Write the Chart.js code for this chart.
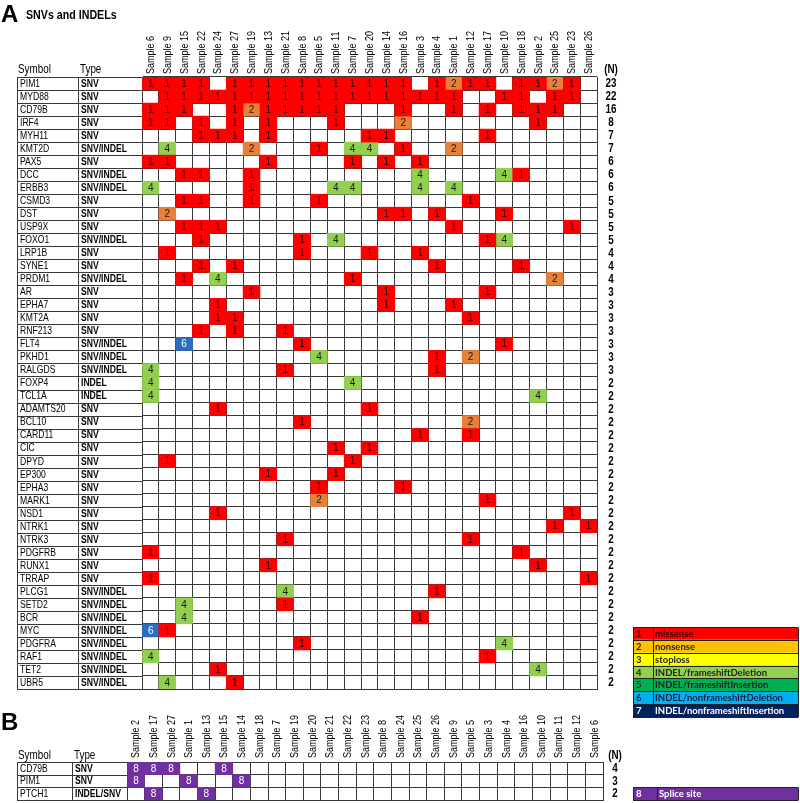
<!DOCTYPE html>
<html><head><meta charset="utf-8">
<script src="https://cdn.jsdelivr.net/npm/chart.js@4.4.1/dist/chart.umd.min.js"></script>
<style>
html,body{margin:0;padding:0;background:#fff;}
#wrap{position:relative;width:800px;height:803px;overflow:hidden;}
#wrap canvas{position:absolute;left:0;top:0;}
</style></head><body>
<div id="wrap">
<canvas id="cA" width="800" height="803"></canvas>
<canvas id="cB" width="800" height="803"></canvas>
</div>
<script>
// ---------------- DATA ----------------
const samplesA = ["Sample 6","Sample 9","Sample 15","Sample 22","Sample 24","Sample 27","Sample 19","Sample 13","Sample 21","Sample 8","Sample 5","Sample 11","Sample 7","Sample 20","Sample 14","Sample 16","Sample 3","Sample 4","Sample 1","Sample 12","Sample 17","Sample 10","Sample 18","Sample 2","Sample 25","Sample 23","Sample 26"];
const genesA = ["PIM1","MYD88","CD79B","IRF4","MYH11","KMT2D","PAX5","DCC","ERBB3","CSMD3","DST","USP9X","FOXO1","LRP1B","SYNE1","PRDM1","AR","EPHA7","KMT2A","RNF213","FLT4","PKHD1","RALGDS","FOXP4","TCL1A","ADAMTS20","BCL10","CARD11","CIC","DPYD","EP300","EPHA3","MARK1","NSD1","NTRK1","NTRK3","PDGFRB","RUNX1","TRRAP","PLCG1","SETD2","BCR","MYC","PDGFRA","RAF1","TET2","UBR5"];
const typesA = ["SNV","SNV","SNV","SNV","SNV","SNV/INDEL","SNV","SNV/INDEL","SNV/INDEL","SNV","SNV","SNV","SNV/INDEL","SNV","SNV","SNV/INDEL","SNV","SNV","SNV","SNV","SNV/INDEL","SNV/INDEL","SNV/INDEL","INDEL","INDEL","SNV","SNV","SNV","SNV","SNV","SNV","SNV","SNV","SNV","SNV","SNV","SNV","SNV","SNV","SNV/INDEL","SNV/INDEL","SNV/INDEL","SNV/INDEL","SNV/INDEL","SNV/INDEL","SNV/INDEL","SNV/INDEL"];
const countsA = [23,22,16,8,7,7,6,6,6,5,5,5,5,4,4,4,3,3,3,3,3,3,3,2,2,2,2,2,2,2,2,2,2,2,2,2,2,2,2,2,2,2,2,2,2,2,2];
// per gene: sample column index (in samplesA order) [:mutation code, default 1]
const callsA = [
 "0 1 2 3 5 6 7 8 9 10 11 12 13 14 15 17 18:2 19 20 22 23 24:2 25",
 "1 2 3 4 5 6 7 8 9 10 11 12 13 14 15 16 17 18 21 22 24 25",
 "0 1 2 5 6:2 7 8 9 10 11 15 18 20 22 23 24",
 "0 1 3 5 7 11 15:2 23",
 "3 4 5 7 13 14 20",
 "1:4 6:2 10 12:4 13:4 15 18:2",
 "0 1 7 12 14 16",
 "2 3 6 16:4 21:4 22",
 "0:4 6 11:4 12:4 16:4 18:4",
 "2 3 6 10 19",
 "1:2 14 15 17 21",
 "2 3 4 18 25",
 "3 9 11:4 20 21:4",
 "1 9 13 16",
 "3 5 17 22",
 "2 4:4 12 24:2",
 "6 14 20",
 "4 14 18",
 "4 5 19",
 "3 5 8",
 "2:6 9 21",
 "10:4 17 19:2",
 "0:4 8 17",
 "0:4 12:4",
 "0:4 23:4",
 "4 13",
 "9 19:2",
 "16 19",
 "11 13",
 "1 12",
 "7 11",
 "10 15",
 "10:2 20",
 "4 25",
 "24 26",
 "8 19",
 "0 22",
 "7 23",
 "0 26",
 "8:4 17",
 "2:4 8",
 "2:4 16",
 "0:6 1",
 "9 21:4",
 "0:4 20",
 "4 23:4",
 "1:4 5"
];
const samplesB = ["Sample 2","Sample 17","Sample 27","Sample 1","Sample 13","Sample 15","Sample 14","Sample 18","Sample 7","Sample 19","Sample 20","Sample 21","Sample 22","Sample 23","Sample 8","Sample 24","Sample 25","Sample 26","Sample 9","Sample 5","Sample 3","Sample 4","Sample 16","Sample 10","Sample 11","Sample 12","Sample 6"];
const genesB = ["CD79B","PIM1","PTCH1"];
const typesB = ["SNV","SNV","INDEL/SNV"];
const countsB = [4,3,2];
const callsB = ["0:8 1:8 2:8 5:8", "0:8 3:8 6:8", "1:8 4:8"];

const codes = [1,2,3,4,5,6,7,8];
const cellFill = ["#ff0000","#e9803a","#ffff00","#92d050","#00b050","#2a6fbf","#002060","#7030a0"];
const cellInk  = ["#2a0000","#1a1a1a","#1a1a1a","#1a1a1a","#1a1a1a","#ffffff","#ffffff","#ffffff"];
const legendCodesA = ["1","2","3","4","5","6","7"];
const legendLabelsA = ["missense","nonsense","stoploss","INDEL/frameshiftDeletion","INDEL/frameshiftInsertion","INDEL/nonframeshiftDeletion","INDEL/nonframeshiftInsertion"];
const legendFillA = ["#ff0000","#ffc000","#ffff00","#92d050","#00b050","#00b0f0","#002060"];
const legendInkA = ["#3a0000","#222222","#222222","#222222","#222222","#10203a","#ffffff"];
const legendCodesB = ["8"];
const legendLabelsB = ["Splice site"];
const legendFillB = ["#7030a0"];
const legendInkB = ["#ffffff"];

// ---------------- HELPERS ----------------
const ARIAL = "'Liberation Sans',Arial,sans-serif";
const LEG = "Lato,'Open Sans',sans-serif";
const NARROW_X = 0.82; // horizontal condensing to mimic Arial Narrow
const LINE = '#383838';

function parseCalls(s){ return s.trim().split(/\s+/).map(t=>{const p=t.split(':'); return {col:+p[0], code:p[1]?+p[1]:1};}); }
function makeDatasets(genes, calls){
  return codes.map((code,k)=>({
    label:String(code),
    data: genes.flatMap((g,i)=>parseCalls(calls[i]).filter(o=>o.code===code).map(o=>({x:[o.col,o.col+1], y:g, code:code}))),
    backgroundColor: cellFill[k], borderWidth:0, borderSkipped:false, grouped:false,
    barPercentage:1, categoryPercentage:1
  }));
}
const px = v => Math.round(v)+0.5;
function ntext(ctx, text, x, y, align, rot){
  ctx.save(); ctx.translate(x, y); if (rot) ctx.rotate(rot); ctx.scale(NARROW_X, 1);
  ctx.textAlign = align; ctx.fillText(text, 0, 0); ctx.restore();
}

function makePanel(cfg){
  return {
    id:'panel'+cfg.id,
    afterDatasetsDraw(chart){
      const ctx = chart.ctx;
      ctx.save();
      ctx.font = `10px ${ARIAL}`; ctx.textAlign='center'; ctx.textBaseline='middle';
      chart.data.datasets.forEach((ds,di)=>{
        const meta = chart.getDatasetMeta(di);
        meta.data.forEach((el,j)=>{
          const p = el.getCenterPoint();
          ctx.fillStyle = cellInk[codes.indexOf(ds.data[j].code)];
          ctx.fillText(String(ds.data[j].code), p.x, p.y+0.5);
        });
      });
      ctx.restore();
    },
    afterDraw(chart){
      const ctx = chart.ctx, ys = chart.scales.y, xt = chart.scales.xTop, a = chart.chartArea;
      const n = cfg.genes.length, h = (a.bottom-a.top)/n;
      ctx.save();
      // panel letter and title
      ctx.fillStyle='#000'; ctx.textAlign='left'; ctx.textBaseline='alphabetic';
      ctx.font = `bold ${cfg.letterSize}px ${ARIAL}`;
      ctx.fillText(cfg.letter, cfg.letterX, cfg.letterY);
      if (cfg.title){ ctx.font = `bold 13px ${ARIAL}`; ntext(ctx, cfg.title, cfg.titleX, cfg.titleY, 'left'); }
      // sample (column) labels, rotated, positioned by the top category scale
      ctx.fillStyle='#000'; ctx.textBaseline='middle'; ctx.font = `11px ${ARIAL}`;
      cfg.samples.forEach((s,i)=>{ ntext(ctx, s, xt.getPixelForValue(i)+0.5, a.top-cfg.tickPad, 'left', -Math.PI/2); });
      // left table
      ctx.strokeStyle = LINE; ctx.lineWidth = 1; ctx.beginPath();
      for (let i=0;i<=n;i++){
        const yy = px(i<n ? ys.getPixelForValue(i)-h/2 : ys.getPixelForValue(n-1)+h/2);
        ctx.moveTo(cfg.tblX[0], yy); ctx.lineTo(a.left, yy);
      }
      cfg.tblX.forEach(xx=>{ ctx.moveTo(px(xx), px(a.top)); ctx.lineTo(px(xx), px(a.bottom)); });
      ctx.stroke();
      // header
      ctx.fillStyle='#000'; ctx.textBaseline='middle';
      ctx.font = `12px ${ARIAL}`;
      ntext(ctx, 'Symbol', cfg.tblX[0]+1, a.top-cfg.headDy, 'left');
      ntext(ctx, 'Type', cfg.tblX[1]+2, a.top-cfg.headDy, 'left');
      ctx.font = `bold 12px ${ARIAL}`;
      ntext(ctx, '(N)', cfg.nX, a.top-cfg.headDy, 'center');
      // rows
      for (let i=0;i<n;i++){
        const yc = ys.getPixelForValue(i)+0.5;
        ctx.font = `10.5px ${ARIAL}`; ntext(ctx, cfg.genes[i], cfg.tblX[0]+3, yc, 'left');
        ctx.font = `bold 10.5px ${ARIAL}`; ntext(ctx, cfg.types[i], cfg.tblX[1]+3, yc, 'left');
        ctx.font = `bold 12px ${ARIAL}`; ntext(ctx, String(cfg.counts[i]), cfg.nX, yc, 'center');
      }
      // legend table
      const L = cfg.legend;
      L.codes.forEach((c,i)=>{
        const y0 = L.y + i*L.rowH;
        ctx.fillStyle = L.fill[i];
        ctx.fillRect(L.x0, y0, L.x1-L.x0, L.rowH);
        ctx.fillStyle = L.ink[i]; ctx.textAlign='left'; ctx.textBaseline='middle';
        ctx.font = `bold 9.5px ${LEG}`;
        ctx.fillText(c, L.x0+3, y0+L.rowH/2+0.5);
        ctx.fillText(L.labels[i], L.xNum+2, y0+L.rowH/2+0.5, L.x1-L.xNum-5);
      });
      ctx.strokeStyle='#222'; ctx.beginPath();
      for (let i=0;i<=L.codes.length;i++){ const yy=px(L.y+i*L.rowH); ctx.moveTo(L.x0,yy); ctx.lineTo(L.x1,yy); }
      [L.x0, L.xNum, L.x1].forEach(xx=>{ ctx.moveTo(px(xx), px(L.y)); ctx.lineTo(px(xx), px(L.y+L.codes.length*L.rowH)); });
      ctx.stroke();
      ctx.restore();
    }
  };
}

function makeChart(canvasId, cfg){
  return new Chart(document.getElementById(canvasId), {
    type:'bar',
    data:{ labels: cfg.genes, datasets: makeDatasets(cfg.genes, cfg.calls) },
    options:{
      indexAxis:'y', responsive:false, animation:false, events:[],
      layout:{ padding: cfg.padding },
      plugins:{ legend:{display:false}, tooltip:{enabled:false} },
      scales:{
        x:{ type:'linear', min:0, max:cfg.samples.length, position:'bottom', z:1,
            ticks:{display:false, stepSize:1}, grid:{color:LINE, drawTicks:false},
            border:{color:LINE}, afterFit(s){ s.height = 0; } },
        xTop:{ type:'category', labels: cfg.samples, position:'top', offset:true,
            grid:{display:false, drawTicks:false}, border:{display:false},
            ticks:{display:false},
            afterFit(s){ s.height = cfg.headH; } },
        y:{ type:'category', labels: cfg.genes, offset:true, z:1,
            ticks:{display:false}, grid:{color:LINE, drawTicks:false, offset:true},
            border:{color:LINE}, afterFit(s){ s.width = cfg.leftW; } }
      }
    },
    plugins:[ makePanel(cfg) ]
  });
}

const cfgA = { id:'A', samples:samplesA, genes:genesA, types:typesA, counts:countsA, calls:callsA,
  padding:{left:0, top:0, right:203, bottom:114}, headH:77, leftW:142, tickPad:3,
  tblX:[17,78], nX:611, headDy:7, letter:'A', letterSize:24, letterX:1, letterY:22,
  title:'SNVs and INDELs', titleX:26, titleY:19,
  legend:{ codes:legendCodesA, labels:legendLabelsA, fill:legendFillA, ink:legendInkA, x0:633, xNum:653, x1:798, y:627, rowH:12.86 } };
const cfgB = { id:'B', samples:samplesB, genes:genesB, types:typesB, counts:countsB, calls:callsB,
  padding:{left:0, top:700, right:197, bottom:3}, headH:62, leftW:127, tickPad:4,
  tblX:[17,72], nX:615, headDy:6, letter:'B', letterSize:24, letterX:1, letterY:730,
  title:null,
  legend:{ codes:legendCodesB, labels:legendLabelsB, fill:legendFillB, ink:legendInkB, x0:633, xNum:657, x1:798, y:787, rowH:13 } };

makeChart('cA', cfgA);
makeChart('cB', cfgB);
</script>
</body></html>
